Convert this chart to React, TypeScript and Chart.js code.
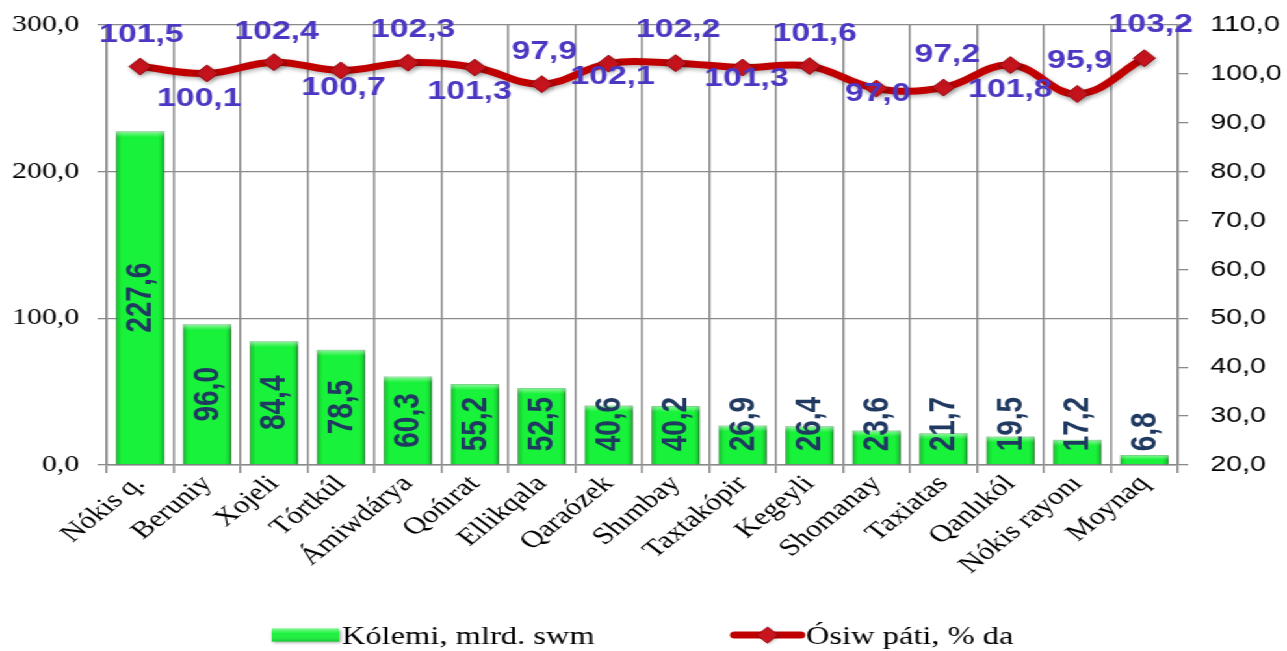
import { useEffect, useRef } from 'react';
import { Chart, registerables } from 'chart.js';

Chart.register(...registerables);

const categories = [
  'Nókis q.', 'Beruniy', 'Xojeli', 'Tórtkúl', 'Ámiwdárya', 'Qońırat', 'Ellikqala', 'Qaraózek',
  'Shımbay', 'Taxtakópir', 'Kegeyli', 'Shomanay', 'Taxiatas', 'Qanlıkól', 'Nókis rayonı', 'Moynaq',
];
const volume = [227.6, 96.0, 84.4, 78.5, 60.3, 55.2, 52.5, 40.6, 40.2, 26.9, 26.4, 23.6, 21.7, 19.5, 17.2, 6.8];
const growth = [101.5, 100.1, 102.4, 100.7, 102.3, 101.3, 97.9, 102.1, 102.2, 101.3, 101.6, 97.0, 97.2, 101.8, 95.9, 103.2];
const volumeLabel = 'Kólemi, mlrd. swm';
const growthLabel = 'Ósiw páti, % da';
const leftTicks = [0, 100, 200, 300];
const rightTicks = [20, 30, 40, 50, 60, 70, 80, 90, 100, 110];
// offsets of the growth value labels relative to their points
const growthLabelDx = [1, -6, 2, 2, 4, -4, 2, 3, 2, 3, 4, 1, 3, 0, 2, 5];
const growthLabelDy = [-32, 25, -30, 17, -33, 24, -32, 13, -33, 11, -32, 5, -33, 25, -33, -33];

const STRETCH = 1.3;
const W = 1287 / STRETCH;
const H = 651;

const fmt = (v: number) => v.toFixed(1).replace('.', ',');
const GRID = '#8a8a8a';
const SERIF = '"Liberation Serif", "Times New Roman", serif';
const SANS = '"Liberation Sans", Arial, sans-serif';

const stylePlugin = {
  id: 'styling',
  beforeDatasetDraw(chart: any, args: any) {
    const ctx = chart.ctx;
    ctx.save();
    if (args.index === 0) {
      ctx.shadowColor = 'rgba(0,0,0,0.45)';
      ctx.shadowBlur = 4;
      ctx.shadowOffsetX = 2;
      ctx.shadowOffsetY = 1;
    } else {
      ctx.shadowColor = 'rgba(0,0,0,0.3)';
      ctx.shadowBlur = 4;
      ctx.shadowOffsetX = 1;
      ctx.shadowOffsetY = 2;
    }
  },
  afterDatasetDraw(chart: any, args: any) {
    const ctx = chart.ctx;
    ctx.restore();
    if (args.index !== 0) return;
    const meta = chart.getDatasetMeta(0);
    ctx.save();
    meta.data.forEach((el: any) => {
      const { x, y, base, width } = el.getProps(['x', 'y', 'base', 'width'], true);
      const l = x - width / 2;
      const h = base - y;
      let g = ctx.createLinearGradient(l, 0, l + width, 0);
      g.addColorStop(0, 'rgba(0,90,10,0.35)');
      g.addColorStop(0.12, 'rgba(0,90,10,0)');
      g.addColorStop(0.88, 'rgba(0,90,10,0)');
      g.addColorStop(1, 'rgba(0,90,10,0.35)');
      ctx.fillStyle = g;
      ctx.fillRect(l, y, width, h);
      const bh = Math.min(6, h / 2);
      g = ctx.createLinearGradient(0, y, 0, y + bh);
      g.addColorStop(0, 'rgba(255,255,255,0.5)');
      g.addColorStop(1, 'rgba(255,255,255,0)');
      ctx.fillStyle = g;
      ctx.fillRect(l, y, width, bh);
    });
    ctx.restore();
  },
};

const labelPlugin = {
  id: 'valueLabels',
  afterDatasetsDraw(chart: any) {
    const ctx = chart.ctx;
    ctx.save();
    ctx.textAlign = 'center';
    ctx.textBaseline = 'middle';
    const barMeta = chart.getDatasetMeta(0);
    ctx.font = `bold 28px ${SANS}`;
    ctx.fillStyle = '#1F3960';
    barMeta.data.forEach((el: any, i: number) => {
      const { x, y, base } = el.getProps(['x', 'y', 'base'], true);
      const text = fmt(volume[i]);
      const len = ctx.measureText(text).width;
      let cy = (y + base) / 2;
      const maxCy = base - 13 - len / 2;
      if (cy > maxCy) cy = maxCy;
      ctx.save();
      ctx.translate(x + 1, cy);
      ctx.rotate(-Math.PI / 2);
      ctx.fillText(text, 0, 0);
      ctx.restore();
    });
    const lineMeta = chart.getDatasetMeta(1);
    ctx.font = `bold 26px ${SANS}`;
    ctx.fillStyle = '#4A37C2';
    lineMeta.data.forEach((el: any, i: number) => {
      ctx.fillText(fmt(growth[i]), el.x + growthLabelDx[i], el.y + growthLabelDy[i]);
    });
    ctx.restore();
  },
};

const legendPlugin = {
  id: 'customLegend',
  afterDraw(chart: any) {
    const ctx = chart.ctx;
    const ds = chart.data.datasets;
    const cy = 635;
    ctx.save();
    // bar item
    const bx = 209, bw = 52, bh = 13;
    ctx.fillStyle = '#19F23A';
    ctx.shadowColor = 'rgba(0,0,0,0.4)';
    ctx.shadowBlur = 3;
    ctx.shadowOffsetX = 1;
    ctx.shadowOffsetY = 1;
    ctx.fillRect(bx, cy - bh / 2, bw, bh);
    ctx.shadowColor = 'transparent';
    const g = ctx.createLinearGradient(0, cy - bh / 2, 0, cy + bh / 2);
    g.addColorStop(0, 'rgba(255,255,255,0.45)');
    g.addColorStop(0.4, 'rgba(255,255,255,0)');
    g.addColorStop(1, 'rgba(0,90,10,0.25)');
    ctx.fillStyle = g;
    ctx.fillRect(bx, cy - bh / 2, bw, bh);
    ctx.font = `25px ${SERIF}`;
    ctx.fillStyle = '#000';
    ctx.textBaseline = 'middle';
    ctx.textAlign = 'left';
    ctx.fillText(ds[0].label, bx + bw + 2, cy + 2);
    // line item
    const lx = 565, lw = 51;
    ctx.strokeStyle = '#C00000';
    ctx.lineWidth = 7;
    ctx.lineCap = 'round';
    ctx.beginPath();
    ctx.moveTo(lx, cy);
    ctx.lineTo(lx + lw, cy);
    ctx.stroke();
    const mx = lx + lw / 2, r = 8;
    ctx.shadowColor = 'rgba(0,0,0,0.3)';
    ctx.shadowBlur = 3;
    ctx.beginPath();
    ctx.moveTo(mx - r, cy);
    ctx.lineTo(mx, cy - r);
    ctx.lineTo(mx + r, cy);
    ctx.lineTo(mx, cy + r);
    ctx.closePath();
    ctx.fillStyle = '#C8141E';
    ctx.fill();
    ctx.shadowColor = 'transparent';
    ctx.lineWidth = 1;
    ctx.strokeStyle = '#9A0A12';
    ctx.stroke();
    ctx.fillStyle = '#000';
    ctx.fillText(ds[1].label, lx + lw + 4, cy + 2);
    ctx.restore();
  },
};

export default function App() {
  const ref = useRef<HTMLCanvasElement | null>(null);

  useEffect(() => {
    if (!ref.current) return;
    const chart = new Chart(ref.current, {
      type: 'bar',
      data: {
        labels: categories,
        datasets: [
          {
            type: 'bar',
            label: volumeLabel,
            data: volume,
            yAxisID: 'y',
            order: 1,
            backgroundColor: '#19F23A',
            borderColor: '#15C930',
            borderWidth: 1,
            barPercentage: 0.72,
            categoryPercentage: 1,
          },
          {
            type: 'line',
            label: growthLabel,
            data: growth,
            yAxisID: 'y1',
            order: 0,
            borderColor: '#C00000',
            borderWidth: 7,
            tension: 0.4,
            pointStyle: 'rectRot',
            pointRadius: 8.5,
            pointBackgroundColor: '#C8141E',
            pointBorderColor: '#9A0A12',
            pointBorderWidth: 1,
            fill: false,
          },
        ] as any,
      },
      options: {
        responsive: false,
        animation: false,
        devicePixelRatio: 1,
        layout: { padding: { top: 25, bottom: 39, left: 0, right: 0 } },
        plugins: {
          legend: { display: false },
          tooltip: { enabled: false },
        },
        scales: {
          x: {
            offset: true,
            grid: { color: GRID, lineWidth: 1.5, offset: true, tickLength: 8, drawOnChartArea: true },
            border: { color: GRID, width: 1.5 },
            ticks: {
              autoSkip: false,
              minRotation: 46,
              maxRotation: 46,
              color: '#000',
              padding: -3,
              font: { family: SERIF, size: 24 },
            },
            afterFit: (s: any) => { s.height = H - 465 - 39; },
          },
          y: {
            position: 'left',
            min: 0,
            max: 300,
            afterBuildTicks: (s: any) => { s.ticks = leftTicks.map((v) => ({ value: v })); },
            grid: { color: GRID, lineWidth: 1.3, tickLength: 7 },
            border: { color: GRID, width: 1.5 },
            ticks: {
              color: '#000',
              padding: 14,
              font: { family: SERIF, size: 23 },
              callback: (v: any) => fmt(Number(v)),
            },
            afterFit: (s: any) => { s.width = 82; s.paddingTop = 0; s.paddingBottom = 0; },
          },
          y1: {
            position: 'right',
            min: 20,
            max: 110,
            afterBuildTicks: (s: any) => { s.ticks = rightTicks.map((v) => ({ value: v })); },
            grid: { color: GRID, lineWidth: 1.3, tickLength: 8, drawOnChartArea: false },
            border: { color: GRID, width: 1.5 },
            ticks: {
              color: '#000',
              padding: 17,
              font: { family: SANS, size: 22 },
              callback: (v: any) => fmt(Number(v)),
            },
            afterFit: (s: any) => { s.width = 84; s.paddingTop = 0; s.paddingBottom = 0; },
          },
        },
      } as any,
      plugins: [stylePlugin, labelPlugin, legendPlugin],
    });
    return () => chart.destroy();
  }, []);

  return (
    <div style={{ position: 'fixed', left: 0, top: 0, width: W, height: H, transform: `scaleX(${STRETCH})`, transformOrigin: '0 0', background: '#fff' }}>
      <canvas ref={ref} width={W} height={H} style={{ display: 'block' }} />
    </div>
  );
}
